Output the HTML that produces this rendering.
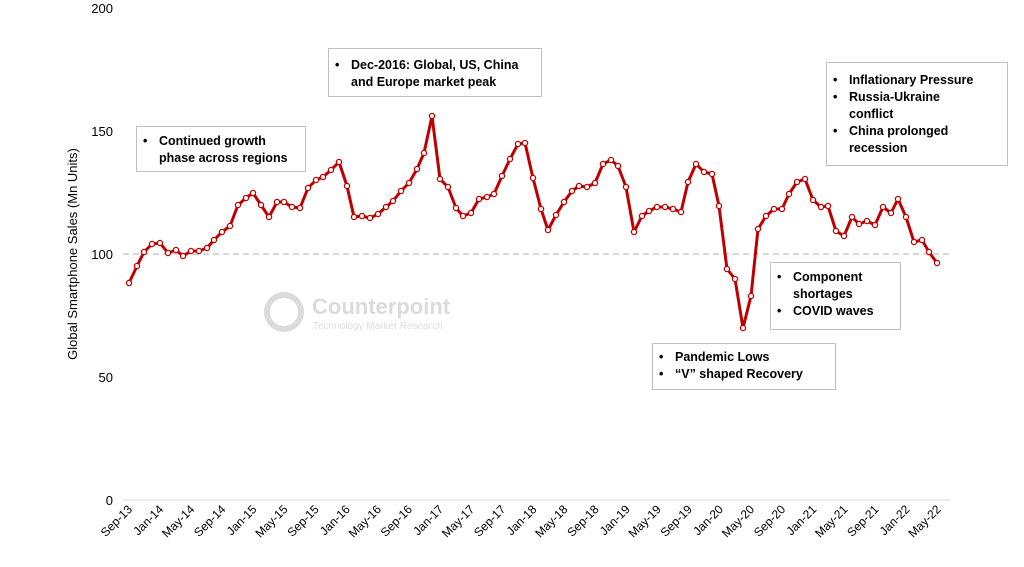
<!DOCTYPE html>
<html><head><meta charset="utf-8"><style>
body{margin:0;background:#fff;width:1024px;height:567px;overflow:hidden;font-family:"Liberation Sans",sans-serif}
.box{position:absolute;border:1px solid #bfbfbf;background:#fff;font:bold 12.5px "Liberation Sans",sans-serif;color:#000;line-height:17px}
.box div{padding-left:22px;position:relative}
.box div:before{content:"•";position:absolute;left:6px}
</style></head><body>
<svg width="1024" height="567" style="position:absolute;left:0;top:0" font-family="Liberation Sans, sans-serif">
<line x1="123" y1="500" x2="950" y2="500" stroke="#d9d9d9" stroke-width="1"/>
<line x1="123" y1="254" x2="950" y2="254" stroke="#bfbfbf" stroke-width="1.2" stroke-dasharray="6,4"/>
<g font-size="13" fill="#000" text-anchor="end">
<text x="113" y="13">200</text><text x="113" y="136">150</text><text x="113" y="259">100</text><text x="113" y="382">50</text><text x="113" y="505">0</text>
</g>
<text transform="translate(77,254) rotate(-90)" font-size="13" text-anchor="middle">Global Smartphone Sales (Mn Units)</text>
<g opacity="0.35">
<circle cx="284" cy="312" r="17" fill="none" stroke="#999" stroke-width="6"/>
<text x="312" y="314" font-size="22" font-weight="bold" fill="#999">Counterpoint</text>
<text x="313" y="329" font-size="10" fill="#999">Technology Market Research</text>
</g>
<g font-size="12" fill="#000" text-anchor="end" id="xl"></g>
<polyline id="pl" fill="none" stroke="#c00000" stroke-width="3" stroke-linejoin="round" points=""/>
<g id="pts"></g>
</svg>
<div class="box" style="left:136px;top:126px;width:170px;height:46px;padding-top:6px;box-sizing:border-box"><div>Continued growth<br>phase across regions</div></div>
<div class="box" style="left:328px;top:48px;width:214px;height:49px;padding-top:8px;box-sizing:border-box"><div>Dec-2016: Global, US, China<br>and Europe market peak</div></div>
<div class="box" style="left:826px;top:62px;width:182px;height:104px;padding-top:9px;box-sizing:border-box"><div>Inflationary Pressure</div><div>Russia-Ukraine<br>conflict</div><div>China prolonged<br>recession</div></div>
<div class="box" style="left:770px;top:262px;width:131px;height:68px;padding-top:6px;box-sizing:border-box"><div>Component<br>shortages</div><div>COVID waves</div></div>
<div class="box" style="left:652px;top:343px;width:184px;height:47px;padding-top:5px;box-sizing:border-box"><div>Pandemic Lows</div><div>“V” shaped Recovery</div></div>
<script>
var P=[[129,283],[137,266],[144,252],[152,244],[160,243],[168,253],[176,250],[183,256],[191,251],[199,251],[207,248],[214,240],[222,232],[230,226],[238,205],[246,198],[253,193],[261,205],[269,217],[277,202],[284,202],[292,207],[300,208],[308,188],[316,180],[323,177],[331,170],[339,162],[347,186],[354,217],[362,216],[370,218],[378,214],[386,207],[393,201],[401,191],[409,183],[417,169],[424,153],[432,116],[440,179],[448,187],[456,208],[463,216],[471,213],[479,199],[487,197],[494,194],[502,176],[510,159],[518,144],[525,143],[533,178],[541,209],[548,230],[556,215],[564,202],[572,191],[579,186],[587,187],[595,183],[603,164],[611,160],[618,166],[626,187],[634,232],[642,216],[649,211],[657,207],[665,207],[673,209],[681,212],[688,182],[696,164],[704,172],[712,174],[719,206],[727,269],[735,279],[743,328],[751,296],[758,229],[766,216],[774,209],[782,209],[789,194],[797,182],[805,179],[813,200],[821,207],[828,206],[836,231],[844,236],[852,217],[859,224],[867,221],[875,225],[883,207],[891,213],[898,199],[906,217],[914,242],[922,240],[929,252],[937,263]];
var NS="http://www.w3.org/2000/svg";
document.getElementById('pl').setAttribute('points',P.map(function(p){return p.join(',')}).join(' '));
var g=document.getElementById('pts');
P.forEach(function(p){var c=document.createElementNS(NS,'circle');c.setAttribute('cx',p[0]);c.setAttribute('cy',p[1]);c.setAttribute('r',2.6);c.setAttribute('fill','#fff');c.setAttribute('stroke','#c00000');c.setAttribute('stroke-width',1.3);g.appendChild(c);});
var m=['Sep','Jan','May'],xl=document.getElementById('xl');
for(var i=0;i<27;i++){var yr=13+Math.floor((i+2)/3);var lab=m[i%3]+'-'+yr;var x=129+i*31.1+4;var t=document.createElementNS(NS,'text');t.setAttribute('transform','translate('+x+',510) rotate(-45)');t.textContent=lab;xl.appendChild(t);}
</script>
</body></html>
